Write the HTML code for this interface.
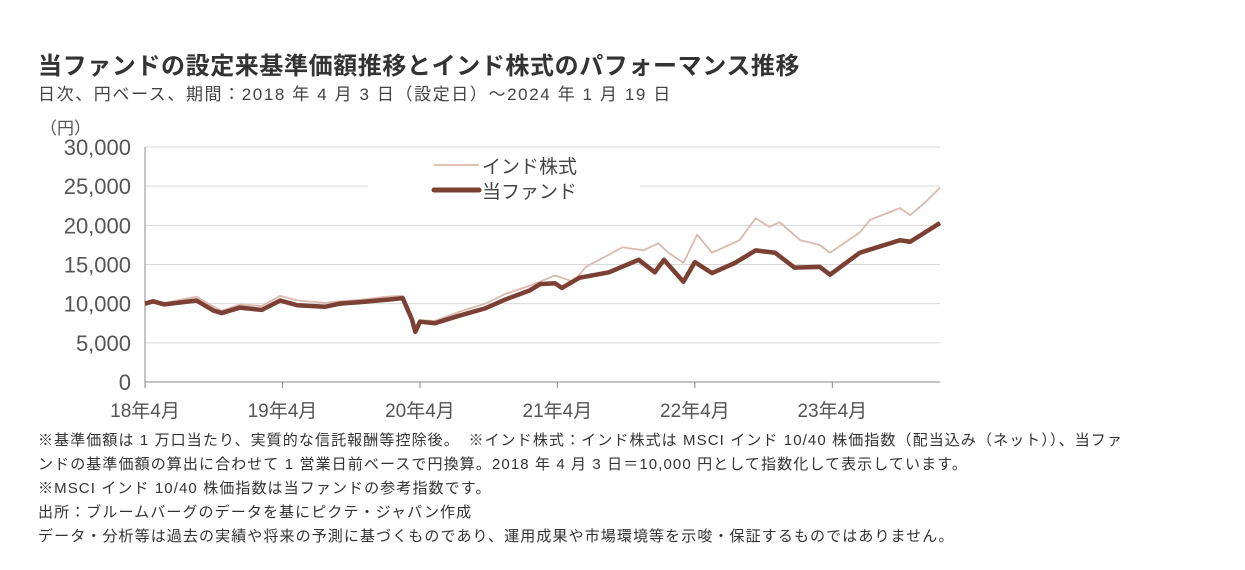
<!DOCTYPE html>
<html><head><meta charset="utf-8">
<style>
body{margin:0;width:1245px;height:570px;background:#fff;overflow:hidden;font-family:"Liberation Sans","Noto Sans CJK JP",sans-serif;color:#333}
.t{position:absolute;white-space:nowrap}
</style></head><body>
<div class="t" style="left:38px;top:46px;font-size:24px;letter-spacing:0.6px;font-weight:bold;color:#333">当ファンドの設定来基準価額推移とインド株式のパフォーマンス推移</div>
<div class="t" style="left:38px;top:80px;font-size:17px;letter-spacing:1.6px;color:#444">日次、円ベース、期間：2018 年 4 月 3 日（設定日）～2024 年 1 月 19 日</div>
<svg id="chart" width="1245" height="570" style="position:absolute;left:0;top:0"></svg>
<div style="position:absolute;left:38px;top:429px;font-size:15px;letter-spacing:1.1px;line-height:24px;color:#333">
<div>※基準価額は 1 万口当たり、実質的な信託報酬等控除後。　※インド株式：インド株式は MSCI インド 10/40 株価指数（配当込み（ネット））、当ファ</div>
<div>ンドの基準価額の算出に合わせて 1 営業日前ベースで円換算。2018 年 4 月 3 日＝10,000 円として指数化して表示しています。</div>
<div>※MSCI インド 10/40 株価指数は当ファンドの参考指数です。</div>
<div>出所：ブルームバーグのデータを基にピクテ・ジャパン作成</div>
<div>データ・分析等は過去の実績や将来の予測に基づくものであり、運用成果や市場環境等を示唆・保証するものではありません。</div>
</div>
<script>
const yTicks=[0,5000,10000,15000,20000,25000,30000];
const yTickLabels=["0","5,000","10,000","15,000","20,000","25,000","30,000"];
const xTickMonths=[0,12,24,36,48,60];
const xTickLabels=["18年4月","19年4月","20年4月","21年4月","22年4月","23年4月"];
const fundMonths=[0,0.7,1.7,4.5,6,6.7,8.3,10.2,11.8,13.3,15.7,17,18.8,21.1,22.5,23.3,23.6,24,25.3,27.5,29.7,31.4,33.6,34.5,35.8,36.4,37.9,40.5,43.1,44.5,45.3,47,48,49.5,51.5,53.3,55,56.7,58.9,59.8,62.4,63.7,65.9,66.8,69.4];
const fundValues=[10000,10300,9900,10400,9100,8800,9500,9200,10400,9800,9600,10000,10200,10500,10700,8000,6400,7700,7500,8500,9400,10500,11700,12500,12600,12000,13300,14000,15600,14000,15600,12800,15300,13900,15200,16800,16500,14600,14700,13700,16500,17100,18100,17900,20300];
const indiaMonths=[0,0.7,1.7,4.5,6,6.7,8.3,10.2,11.8,13.3,15.7,17,18.8,21.1,22.5,23.3,23.6,24,25.3,27.5,29.7,31.4,33.6,35.8,37.4,38.5,41.7,43.5,44.8,45.7,47,48.2,49.5,51.9,53.3,54.5,55.4,57.2,58.9,59.8,62.4,63.3,65.9,66.8,68.3,69.4];
const indiaValues=[10000,10400,10100,10900,9600,9100,9900,9700,11000,10400,10100,10300,10500,10900,11000,8300,6700,7900,7800,9000,10000,11200,12300,13600,12800,14700,17200,16800,17700,16500,15200,18800,16500,18100,20900,19800,20400,18100,17500,16500,19100,20700,22200,21300,23200,24800];
const X0=145,X1=940,Y0=382,Y1=147,MMAX=69.4;
const xs=m=>X0+m*(X1-X0)/MMAX;
const ys=v=>Y0-v*(Y0-Y1)/30000;
const svg=document.getElementById('chart');
const NS='http://www.w3.org/2000/svg';
function mk(t,a){const e=document.createElementNS(NS,t);for(const k in a)e.setAttribute(k,a[k]);svg.appendChild(e);return e;}
yTicks.forEach((v,i)=>{
 if(v>0){const g=mk('line',{x1:X0,x2:X1,y1:ys(v),y2:ys(v),stroke:'#d9d9d9','stroke-width':1});
 
 }
 const t=mk('text',{x:131,y:ys(v)+8,'text-anchor':'end','font-size':22,fill:'#555','font-family':'"Liberation Sans",sans-serif'});
 t.textContent=yTickLabels[i];
 
 
});
const yu=mk('text',{x:40,y:134,'font-size':17,fill:'#555','font-family':'"Liberation Sans","Noto Sans CJK JP",sans-serif'});yu.textContent='（円）';


const ya=mk('line',{x1:X0,x2:X0,y1:Y1,y2:Y0,stroke:'#888','stroke-width':1});


const xa=mk('line',{x1:X0,x2:X1,y1:Y0,y2:Y0,stroke:'#888','stroke-width':1});


xTickMonths.forEach((m,i)=>{
 mk('line',{x1:xs(m),x2:xs(m),y1:Y0,y2:Y0+6,stroke:'#888'});
 const t=mk('text',{x:xs(m),y:417,'text-anchor':'middle','font-size':19,fill:'#555','font-family':'"Liberation Sans","Noto Sans CJK JP",sans-serif'});
 t.textContent=xTickLabels[i];
 
 
});
const lb=mk('rect',{x:368,y:152,width:272,height:52,fill:'#fff'});


const pI=mk('polyline',{points:indiaMonths.map((m,i)=>xs(m)+','+ys(indiaValues[i])).join(' '),fill:'none',stroke:'#dcb9ad','stroke-width':1.8,'stroke-linejoin':'round'});


const pF=mk('polyline',{points:fundMonths.map((m,i)=>xs(m)+','+ys(fundValues[i])).join(' '),fill:'none',stroke:'#7b3f33','stroke-width':4.5,'stroke-linejoin':'round'});


const l1=mk('line',{x1:434,x2:479,y1:165,y2:165,stroke:'#dcb9ad','stroke-width':1.8});


const t1=mk('text',{x:482,y:173,'font-size':19,fill:'#444','font-family':'"Liberation Sans","Noto Sans CJK JP",sans-serif'});t1.textContent='インド株式';


const l2=mk('line',{x1:434,x2:479,y1:190,y2:190,stroke:'#7b3f33','stroke-width':5,'stroke-linecap':'round'});


const t2=mk('text',{x:482,y:198,'font-size':19,fill:'#444','font-family':'"Liberation Sans","Noto Sans CJK JP",sans-serif'});t2.textContent='当ファンド';


</script>
</body></html>
